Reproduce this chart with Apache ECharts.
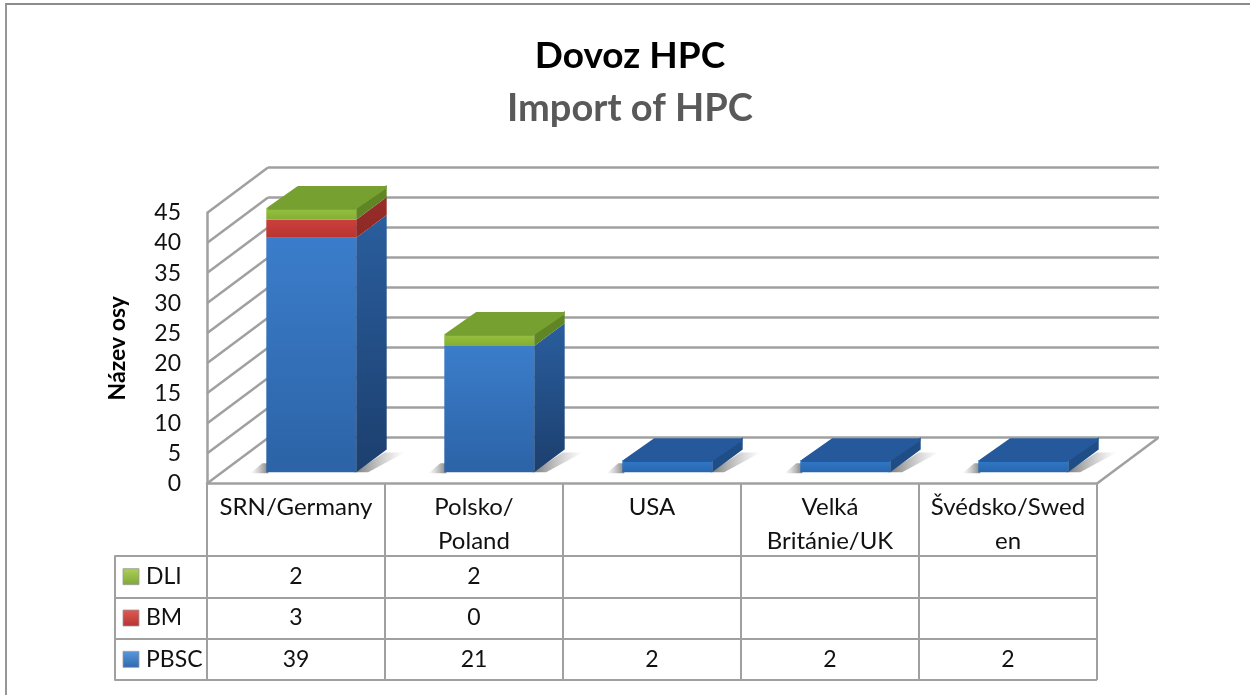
<!DOCTYPE html>
<html><head><meta charset="utf-8">
<style>html,body{margin:0;padding:0;background:#fff}#c{width:1250px;height:695px}</style>
<script src="https://cdn.jsdelivr.net/npm/echarts@6/dist/echarts.min.js"></script>
</head><body><div id="c"></div>
<script>
const categories = ['SRN/Germany', 'Polsko/\nPoland', 'USA', 'Velká\nBritánie/UK', 'Švédsko/Swed\nen'];
const rowNames = ['DLI', 'BM', 'PBSC'];
const PBSC = [39, 21, 2, 2, 2];
const BM = [3, 0, null, null, null];
const DLI = [2, 2, null, null, null];
const yTicks = [0, 5, 10, 15, 20, 25, 30, 35, 40, 45];

const GRID = '#A0A0A0', FONT = 'Lato';
const DX = 61, DY = -45.5;           // depth of the 3D box
const lg = (a, b) => new echarts.graphic.LinearGradient(0, 0, 0, 1, [{offset: 0, color: a}, {offset: 1, color: b}]);
const hg = (xa, xb, a, b) => new echarts.graphic.LinearGradient(xa, 0, xb, 0, [{offset: 0, color: a}, {offset: 1, color: b}], true);

const looks = {
  PBSC: {front: ['#3B7DCB', '#2C63A6'], side: ['#2A5E9E', '#1C3F6E'], top: '#25599C', key: ['#5C98DC', '#2E67AE'], small: ['#3079C9', '#2A66AE'], smallSide: '#1F4D86'},
  BM:   {front: ['#CC3F3B', '#B83532'], side: ['#9A2D2A', '#8C2926'], top: '#8C2926', key: ['#E05A55', '#B53431']},
  DLI:  {front: ['#96C23F', '#84AE35'], side: ['#5F8525', '#5F8525'], top: '#76A030', key: ['#AECF5A', '#7FA836']}
};

// stacked segments built from the value arrays
function segments(name, values, lower, uppers) {
  return values.map((v, i) => {
    if (!v) return null;
    const base = lower.reduce((s, a) => s + (a[i] || 0), 0);
    const above = uppers.reduce((s, a) => s + (a[i] || 0), 0);
    return [i, base, base + v, above === 0 ? 1 : 0];
  }).filter(Boolean);
}

function barSeries(name, values, lower, uppers) {
  const L = looks[name];
  return {
    type: 'custom', name, xAxisIndex: 0, yAxisIndex: 0, z: 5, clip: false,
    data: segments(name, values, lower, uppers),
    renderItem(params, api) {
      const cat = api.value(0), lo = api.coord([cat, api.value(1)]), hi = api.coord([cat, api.value(2)]);
      const w = api.size([1, 0])[0] * 0.505;
      const x0 = lo[0] - w / 2 + DX * 0.25, x1 = x0 + w;
      const yb = lo[1] + DY * 0.25, yt = hi[1] + DY * 0.25;
      const dx = DX * 0.5, dy = DY * 0.5;
      const small = L.small && api.value(3) === 1 && (api.value(2) - api.value(1)) < 5;
      const kids = [
        {type: 'polygon', shape: {points: [[x1, yb], [x1 + dx, yb + dy], [x1 + dx, yt + dy], [x1, yt]]},
         style: {fill: small ? L.smallSide : lg(L.side[0], L.side[1])}},
        {type: 'rect', shape: {x: x0, y: yt, width: w, height: yb - yt},
         style: {fill: small ? lg(L.small[0], L.small[1]) : lg(L.front[0], L.front[1])}}
      ];
      if (api.value(3) === 1) {
        const i = 1.5;
        kids.push({type: 'polygon', shape: {points: [[x0 + i + 1, yt + 0.5], [x1 - i, yt + 0.5], [x1 + dx - i, yt + dy + 2.5], [x0 + dx + i, yt + dy + 2.5]]},
          style: {fill: L.top, stroke: L.top, lineWidth: 3, lineJoin: 'round'}});
      }
      return {type: 'group', children: kids};
    }
  };
}

const totals = PBSC.map((v, i) => [i, v]);

const option = {
  animation: false,
  backgroundColor: '#fff',
  title: [
    {text: 'Dovoz HPC', left: 625, top: 33, textAlign: 'center',
     textStyle: {fontFamily: FONT, fontWeight: 'bold', fontSize: 37, color: '#000'}},
    {text: 'Import of HPC', left: 625, top: 85, textAlign: 'center',
     textStyle: {fontFamily: FONT, fontWeight: 'bold', fontSize: 38, color: '#595959'}}
  ],
  graphic: [
    {type: 'polyline', silent: true, shape: {points: [[6, 695], [6, 4], [1250, 4]]},
     style: {fill: null, stroke: '#8C8C8C', lineWidth: 1.8}}
  ],
  grid: [
    {left: 207, right: 153, top: 213, height: 270.5},
    {left: 268, right: 91, top: 167.5, height: 270},
    {left: 207, right: 153, top: 556, height: 124}
  ],
  xAxis: [
    {type: 'category', gridIndex: 0, data: categories,
     axisLine: {show: true, lineStyle: {color: GRID, width: 2.5}},
     axisTick: {show: true, length: 72.5, lineStyle: {color: GRID, width: 2}},
     axisLabel: {interval: 0, margin: 7, fontFamily: FONT, fontSize: 24, color: '#111', lineHeight: 34, verticalAlign: 'top', hideOverlap: false}},
    {type: 'category', gridIndex: 1, data: categories, show: false},
    {type: 'category', gridIndex: 2, data: categories, position: 'top',
     axisLine: {show: true, lineStyle: {color: GRID, width: 2}},
     axisTick: {show: false}, axisLabel: {show: false},
     splitLine: {show: true, lineStyle: {color: GRID, width: 2}}}
  ],
  yAxis: [
    {type: 'value', gridIndex: 0, min: 0, max: 45, interval: 5,
     name: 'Název osy', nameLocation: 'middle', nameRotate: 90, nameGap: 78,
     nameTextStyle: {fontFamily: FONT, fontWeight: 'bold', fontSize: 23, color: '#000'},
     axisLine: {show: true, lineStyle: {color: GRID, width: 2.5}},
     axisTick: {show: false}, splitLine: {show: false},
     axisLabel: {margin: 26, padding: [3, 0, 0, 0], fontFamily: FONT, fontSize: 23, color: '#111'}},
    {type: 'value', gridIndex: 1, min: 0, max: 45, interval: 5,
     axisLine: {show: false}, axisTick: {show: false}, axisLabel: {show: false},
     splitLine: {show: true, lineStyle: {color: GRID, width: 2.5}}},
    {type: 'category', gridIndex: 2, data: rowNames, inverse: true,
     axisLine: {show: true, lineStyle: {color: GRID, width: 2}},
     axisTick: {show: true, length: 92, lineStyle: {color: GRID, width: 2}},
     axisLabel: {align: 'left', margin: 61, fontFamily: FONT, fontSize: 23, color: '#111'},
     splitLine: {show: true, lineStyle: {color: GRID, width: 2}}},
    {type: 'category', gridIndex: 2, data: rowNames, position: 'left', offset: 92,
     axisLine: {show: true, lineStyle: {color: GRID, width: 2}},
     axisTick: {show: false}, axisLabel: {show: false}, splitLine: {show: false}}
  ],
  series: [
    // slanted side-wall lines, one per tick, plus the right floor edge
    {type: 'custom', xAxisIndex: 0, yAxisIndex: 0, z: 1, clip: false, silent: true,
     data: yTicks.map(v => [0, v]),
     renderItem(params, api) {
       const p = api.coord([0, api.value(1)]), c = params.coordSys;
       const kids = [{type: 'line', shape: {x1: c.x, y1: p[1], x2: c.x + DX, y2: p[1] + DY}, style: {stroke: GRID, lineWidth: 2.5}}];
       if (api.value(1) === 0) kids.push({type: 'line', shape: {x1: c.x + c.width, y1: p[1], x2: c.x + c.width + DX, y2: p[1] + DY}, style: {stroke: GRID, lineWidth: 2.5}});
       return {type: 'group', children: kids};
     }},
    // soft floor shadow beside each bar, fading outward
    {type: 'custom', xAxisIndex: 0, yAxisIndex: 0, z: 2, clip: false, silent: true,
     data: totals,
     renderItem(params, api) {
       const lo = api.coord([api.value(0), 0]);
       const w = api.size([1, 0])[0] * 0.505;
       const x0 = lo[0] - w / 2 + DX * 0.25, x1 = x0 + w, y = lo[1] + DY * 0.25;
       const bx = x1 + DX * 0.5, by = y + DY * 0.5;
       return {type: 'group', children: [
         {type: 'polygon', shape: {points: [[x1 - 2, y], [bx - 2, by + 3], [bx + 18, by + 3], [x1 + 12, y]]},
          style: {fill: hg(x1 - 2, bx + 18, 'rgba(95,95,95,0.85)', 'rgba(150,150,150,0)')}},
         {type: 'polygon', shape: {points: [[x0 - 16, y + 1], [x0 + 2, y + 1], [x0 + 2, y - 9], [x0 - 4, y - 9]]},
          style: {fill: hg(x0 - 16, x0 + 2, 'rgba(150,150,150,0)', 'rgba(95,95,95,0.8)')}}
       ]};
     }},
    barSeries('PBSC', PBSC, [], [BM, DLI]),
    barSeries('BM', BM, [PBSC], [DLI]),
    barSeries('DLI', DLI, [PBSC, BM], []),
    // data-table values
    ...[['DLI', DLI], ['BM', BM], ['PBSC', PBSC]].map(([name, vals]) => ({
      type: 'custom', xAxisIndex: 2, yAxisIndex: 2, z: 6, clip: false, silent: true,
      data: vals.map((v, i) => [i, name, v]).filter(d => d[2] !== null),
      renderItem(params, api) {
        const p = api.coord([api.value(0), rowNames.indexOf(name)]);
        return {type: 'text', x: p[0], y: p[1], style: {text: String(api.value(2)), align: 'center', verticalAlign: 'middle', font: '23px ' + FONT, fill: '#111'}};
      }
    })),
    // legend keys in the data table
    {type: 'custom', xAxisIndex: 2, yAxisIndex: 2, z: 6, clip: false, silent: true,
     data: rowNames.map((n, i) => [0, i]),
     renderItem(params, api) {
       const name = rowNames[api.value(1)], c = params.coordSys, p = api.coord([0, api.value(1)]);
       const k = looks[name].key;
       return {type: 'rect', shape: {x: c.x - 84, y: p[1] - 8, width: 16, height: 16},
         style: {fill: lg(k[0], k[1]), stroke: '#9A9A9A', lineWidth: 0.8}};
     }}
  ]
};
echarts.init(document.getElementById('c'), null, {renderer: 'canvas'}).setOption(option);
</script></body></html>
